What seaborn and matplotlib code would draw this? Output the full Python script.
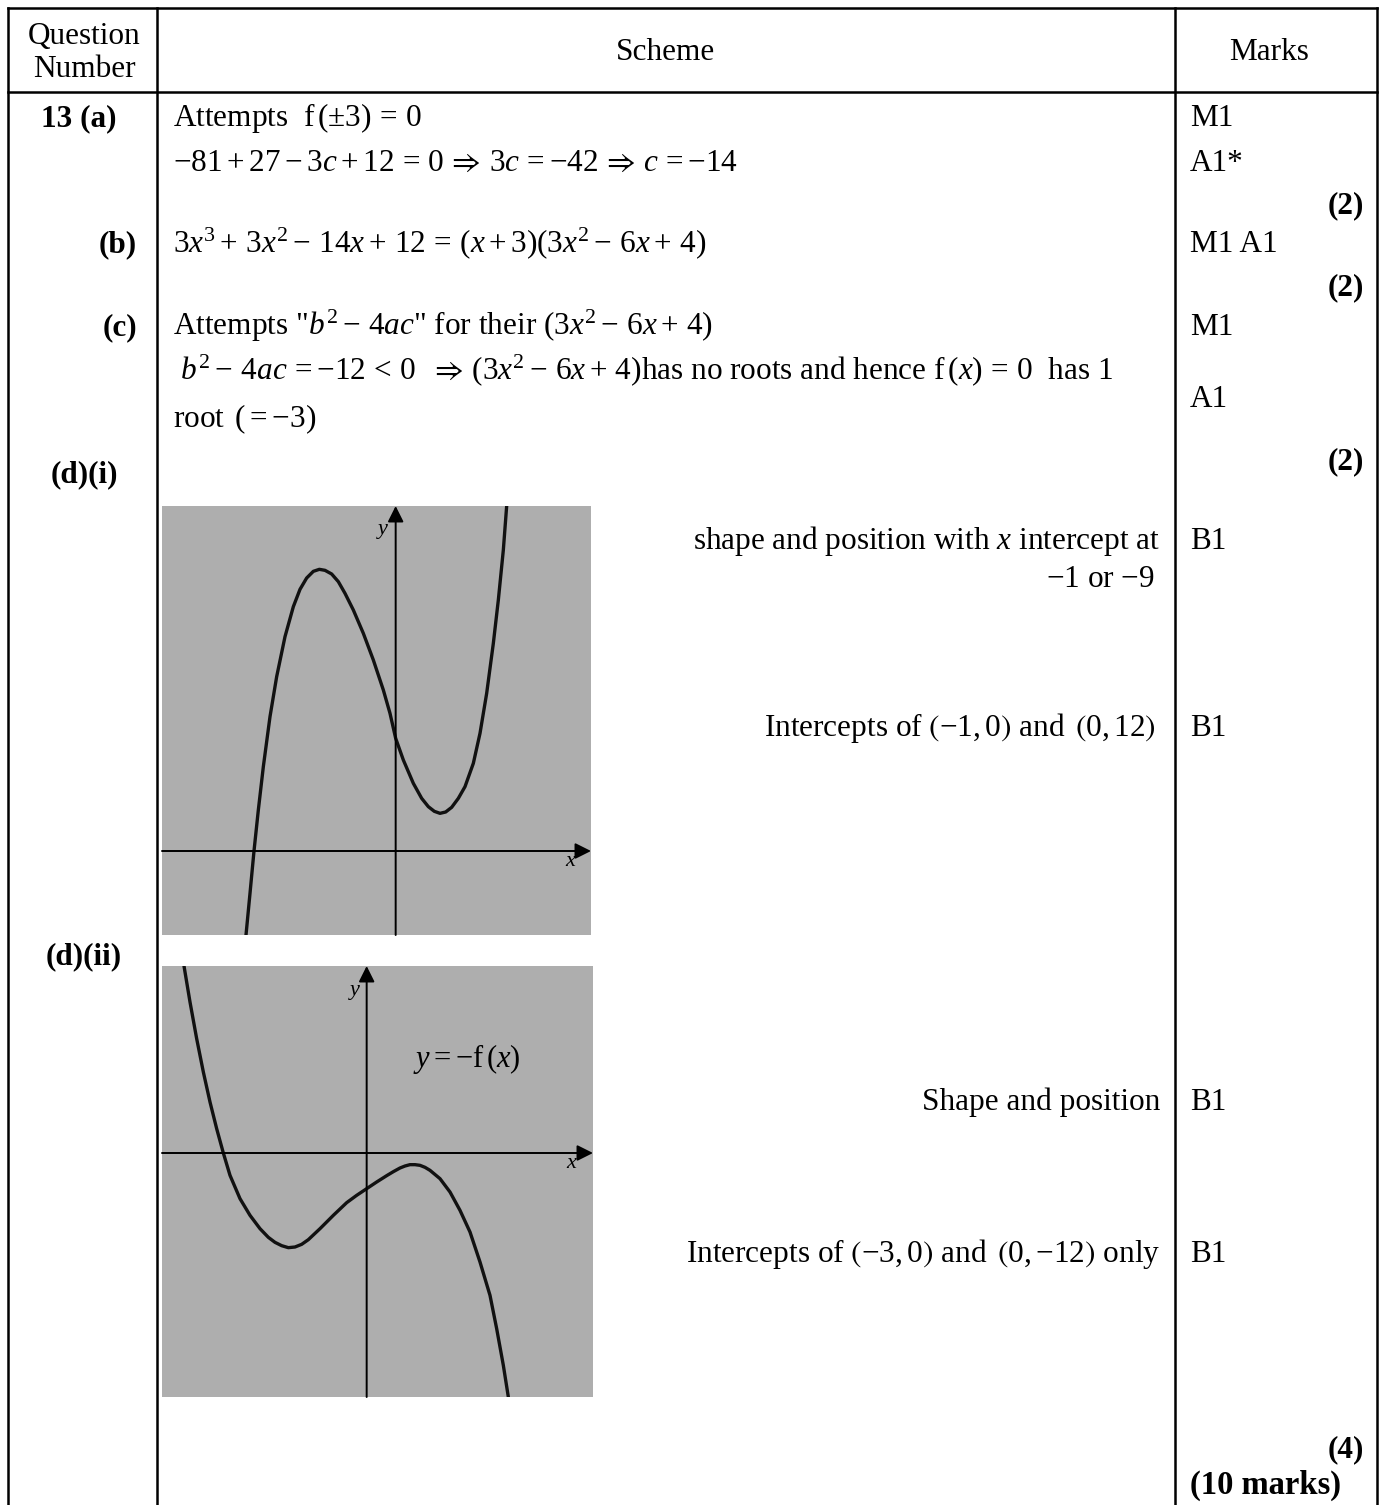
import numpy as np
import pandas as pd
import matplotlib
matplotlib.use('Agg')
import matplotlib.pyplot as plt
import seaborn as sns

# curve (d)(i): points (sketch units, origin at axes crossing)
x_fi = [-4.49, -4.37, -4.25, -4.12, -3.97, -3.77, -3.57, -3.32, -3.07, -2.87, -2.67, -2.47,
        -2.29, -2.12, -1.92, -1.72, -1.52, -1.27, -0.97, -0.67, -0.37, -0.17, 0.00, 0.23,
        0.53, 0.78, 0.98, 1.16, 1.33, 1.50, 1.68, 1.88, 2.08, 2.33, 2.53, 2.73,
        2.93, 3.08, 3.23, 3.33]
y_fi = [-2.52, -1.27, 0.00, 1.23, 2.53, 4.03, 5.23, 6.43, 7.33, 7.85, 8.19, 8.39,
        8.45, 8.42, 8.31, 8.08, 7.73, 7.23, 6.53, 5.73, 4.83, 4.13, 3.38, 2.73,
        2.03, 1.58, 1.33, 1.19, 1.13, 1.17, 1.31, 1.58, 1.93, 2.63, 3.53, 4.73,
        6.23, 7.53, 9.03, 10.35]

# curve (d)(ii): y = -f(x)
x_fii = [-5.48, -5.30, -5.10, -4.90, -4.70, -4.50, -4.30, -4.10, -3.80, -3.50, -3.20, -2.95,
         -2.75, -2.55, -2.35, -2.15, -1.95, -1.75, -1.40, -1.00, -0.60, -0.30, 0.00, 0.30,
         0.60, 0.80, 1.00, 1.15, 1.30, 1.45, 1.60, 1.75, 1.90, 2.20, 2.50, 2.80,
         3.10, 3.40, 3.70, 3.90, 4.10, 4.25]
y_fii = [5.61, 4.53, 3.43, 2.43, 1.53, 0.73, 0.00, -0.67, -1.37, -1.87, -2.27, -2.53,
         -2.68, -2.78, -2.84, -2.82, -2.74, -2.60, -2.27, -1.87, -1.49, -1.27, -1.07, -0.87,
         -0.68, -0.56, -0.45, -0.39, -0.35, -0.35, -0.37, -0.43, -0.52, -0.77, -1.17, -1.72,
         -2.37, -3.27, -4.27, -5.27, -6.37, -7.32]

header = ['Question\nNumber', 'Scheme', 'Marks']
part_labels = ['13 (a)', '(b)', '(c)', '(d)(i)', '(d)(ii)']
marks = ['M1', 'A1*', 'M1 A1', 'M1', 'A1', 'B1', 'B1', 'B1', 'B1']
part_totals = ['(2)', '(2)', '(2)', '(4)']
total = '(10 marks)'

W, H = 1383, 1505
sns.set_style('white')
plt.rcParams['font.family'] = ['Liberation Serif', 'DejaVu Serif']
plt.rcParams['text.color'] = 'black'
plt.rcParams['mathtext.fontset'] = 'custom'
plt.rcParams['mathtext.rm'] = 'Liberation Serif'
plt.rcParams['mathtext.it'] = 'Liberation Serif:italic'
plt.rcParams['mathtext.bf'] = 'Liberation Serif:bold'
plt.rcParams['mathtext.fallback'] = 'stix'

fig = plt.figure(figsize=(W / 100, H / 100), dpi=100)
ax = fig.add_axes([0, 0, 1, 1])
ax.set_xlim(0, W)
ax.set_ylim(H, 0)
ax.axis('off')

FS = 22.5
lw = 1.8
# table grid
for xv in [8, 157, 1175, 1377]:
    ax.plot([xv, xv], [8, H], color='black', lw=lw, solid_capstyle='projecting')
for yh in [8, 92]:
    ax.plot([8, 1377], [yh, yh], color='black', lw=lw, solid_capstyle='projecting')

def txt(x, y, s, ha='left', bold=False, size=FS):
    ax.text(x, y, s, ha=ha, va='baseline', fontsize=size, color='black',
            fontweight='bold' if bold else 'normal')

# header
ax.text(84, 53, header[0], ha='center', va='center', fontsize=FS, linespacing=1.22)
ax.text(666, 52, header[1], ha='center', va='center', fontsize=FS)
ax.text(1269, 52, header[2], ha='center', va='center', fontsize=FS)

b = 9  # baseline offset from row centre
txt(79, 117 + b, part_labels[0], ha='center', bold=True)
txt(137, 243 + b, part_labels[1], ha='right', bold=True)
txt(137, 326 + b, part_labels[2], ha='right', bold=True)
txt(84, 473 + b, part_labels[3], ha='center', bold=True)
txt(84, 955 + b, part_labels[4], ha='center', bold=True)

L = 173
txt(L, 117 + b, r'Attempts  $\mathrm{f}\,(\pm 3) \,=\, 0$')
txt(L, 162 + b, r'$-81+27-3c+12\,=\,0\,\Rightarrow\,3c\,={-42}\,\Rightarrow\,c\,={-14}$')
txt(L, 243 + b, r'$3x^3+\,3x^2-\,14x+\,12\,=\,(x+3)(3x^2-\,6x+\,4)$')
txt(L, 326 + b, r'Attempts "$b^2-\,4ac$" for their $(3x^2-\,6x+\,4)$')
txt(L, 370 + b, r' $b^2-\,4ac\,={-12}\,<\,0\ \ \Rightarrow\,(3x^2-\,6x+\,4)$has no roots and hence $\mathrm{f}\,(x)\,=\,0$  has 1')
txt(L, 418 + b, r'root $\,(={-3})$')

R = 1160
txt(R, 540 + b, r'shape and position with $x$ intercept at', ha='right')
txt(R - 5, 578 + b, r'$-1$ or $-9$', ha='right')
txt(R - 4, 727 + b, r'Intercepts of $\left({-1},0\right)$ and $\,\left(0,12\right)$', ha='right')
txt(R, 1101 + b, 'Shape and position', ha='right')
txt(R, 1253 + b, r'Intercepts of $\left({-3},0\right)$ and $\,\left(0,{-12}\right)$ only', ha='right')

M = 1190
for m, yy in zip(marks, [117, 162, 243, 326, 398, 540, 727, 1101, 1253]):
    txt(M, yy + b, m)
for t, yy in zip(part_totals, [204, 286, 460, 1448]):
    txt(1364, yy + b, t, ha='right', bold=True)
txt(1190, 1494, total, bold=True, size=23.5)


def sketch(rect_px, xs, ys, xlim, ylim, xlab_pos, ylab_pos):
    l, t, r, btm = rect_px
    a = fig.add_axes([l / W, 1 - btm / H, (r - l) / W, (btm - t) / H])
    a.set_facecolor('#aeaeae')
    a.set_xlim(*xlim)
    a.set_ylim(*ylim)
    for s in a.spines.values():
        s.set_visible(False)
    a.set_xticks([])
    a.set_yticks([])
    a.annotate('', xy=(xlim[1], 0), xytext=(xlim[0], 0),
               arrowprops=dict(arrowstyle='-|>', color='black', lw=1.4,
                               mutation_scale=24, shrinkA=0, shrinkB=0))
    a.annotate('', xy=(0, ylim[1]), xytext=(0, ylim[0]),
               arrowprops=dict(arrowstyle='-|>', color='black', lw=1.4,
                               mutation_scale=24, shrinkA=0, shrinkB=0))
    df = pd.DataFrame({'x': xs, 'y': ys})
    sns.lineplot(data=df, x='x', y='y', ax=a, color='#111111', lw=2.4,
                 estimator=None, sort=False, solid_joinstyle='round')
    a.set_xlabel('')
    a.set_ylabel('')
    a.text(*xlab_pos, r'$x$', ha='center', va='center', fontsize=16)
    a.text(*ylab_pos, r'$y$', ha='center', va='center', fontsize=16)
    return a


sketch((162, 506, 591, 935), x_fi, y_fi, (-7.01, 5.86), (-2.52, 10.35),
       (5.25, -0.32), (-0.38, 9.58))
a2 = sketch((162, 966, 593, 1397), x_fii, y_fii, (-6.14, 6.79), (-7.32, 5.61),
            (6.15, -0.32), (-0.35, 4.83))
a2.text(1.4, 2.83, r'$y=-\mathrm{f}\,(x)$', ha='left', va='center', fontsize=22)

fig.savefig('out.png', dpi=100)
